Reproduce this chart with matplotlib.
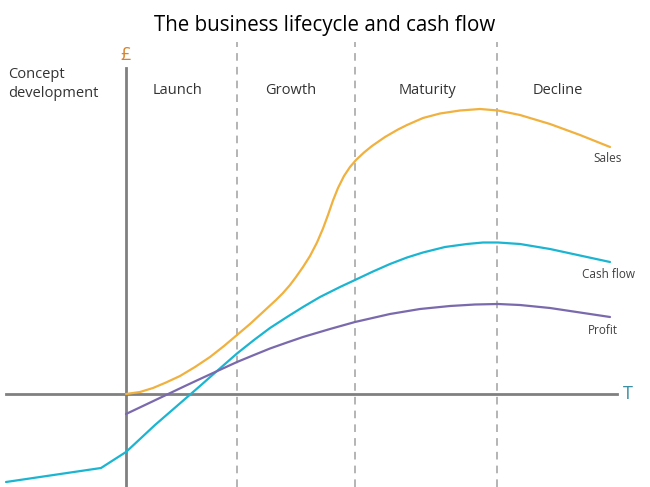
import matplotlib.pyplot as plt

plt.rcParams['font.family'] = ['Open Sans', 'DejaVu Sans']

# time axis (px from left) and value (px above the T axis)
sales_t = [126, 140, 153, 166, 180, 195, 210, 224, 237, 250, 263, 276, 283, 290, 296,
           303, 310, 317, 323, 328, 333, 338, 344, 350, 356, 364, 372, 385, 398, 407,
           423, 440, 460, 480, 498, 520, 550, 580, 610]
sales_v = [0, 2, 6, 11.5, 18, 27, 37, 48, 59, 70, 82, 94, 101, 109, 117,
           127, 138, 151.5, 165.5, 179, 193.5, 206, 218, 227, 234, 241.5, 248, 257, 264.5, 269,
           276, 280.5, 283.5, 285, 283.5, 279, 270, 259, 247]

cash_t = [6, 101, 126, 140, 155, 170, 185, 200, 213, 225, 237, 254, 270, 287, 303,
          320, 340, 355, 373, 390, 407, 423, 445, 467, 483, 498, 520, 550, 580, 610]
cash_v = [-88, -74, -58, -45, -31, -18, -5, 8, 19.5, 30, 40.5, 54, 66, 77, 87,
          97, 107, 114, 122.5, 130, 136.5, 141.5, 147, 150, 151.5, 151.5, 150, 145, 138.5, 132]

profit_t = [126, 145, 165, 185, 200, 213, 225, 237, 254, 270, 287, 303, 330, 355, 390,
            420, 450, 475, 498, 520, 550, 580, 610]
profit_v = [-20, -11, -1.5, 8, 15, 21, 26.5, 32, 39, 45.5, 51.5, 57, 65, 72, 80,
            85, 88, 89.5, 90, 89, 86, 81.5, 77]

stage_names = ['Launch', 'Growth', 'Maturity', 'Decline']
stage_mid = [178, 291, 427, 558]
stage_edges = [237, 355, 497]

fig = plt.figure(figsize=(6.5, 4.87), dpi=100)
ax = fig.add_axes([0, 0, 1, 1])
ax.set_xlim(0, 650)
ax.set_ylim(-93, 394)
ax.axis('off')

for x in stage_edges:
    ax.plot([x, x], [-93, 352], color='#a0a0a0', lw=1.1, ls=(0, (5, 4)))

ax.plot([6, 617], [0, 0], color='#808080', lw=2)
ax.plot([126, 126], [-93, 326], color='#808080', lw=2)
ax.text(628, 0, 'T', color='#3b8fa3', fontsize=13, ha='center', va='center')
ax.text(126, 339, '£', color='#d9822b', fontsize=13, ha='center', va='center')

line_kw = dict(lw=1.6, solid_joinstyle='round', solid_capstyle='round')
ax.plot(sales_t, sales_v, color='#f0b13f', **line_kw)
ax.plot(cash_t, cash_v, color='#1bb5d1', **line_kw)
ax.plot(profit_t, profit_v, color='#7a6aad', **line_kw)

ax.text(608, 235, 'Sales', color='#404040', fontsize=8.5, ha='center', va='center')
ax.text(609, 119, 'Cash flow', color='#404040', fontsize=8.5, ha='center', va='center')
ax.text(603, 64, 'Profit', color='#404040', fontsize=8.5, ha='center', va='center')

for name, x in zip(stage_names, stage_mid):
    ax.text(x, 303, name, color='#333333', fontsize=10.5, ha='center', va='center')
ax.text(8, 310, 'Concept\ndevelopment', color='#333333', fontsize=10.5,
        ha='left', va='center', linespacing=1.3)

ax.text(325, 369, 'The business lifecycle and cash flow', color='black',
        fontsize=14.8, ha='center', va='center')

fig.savefig('out.png', dpi=100)
